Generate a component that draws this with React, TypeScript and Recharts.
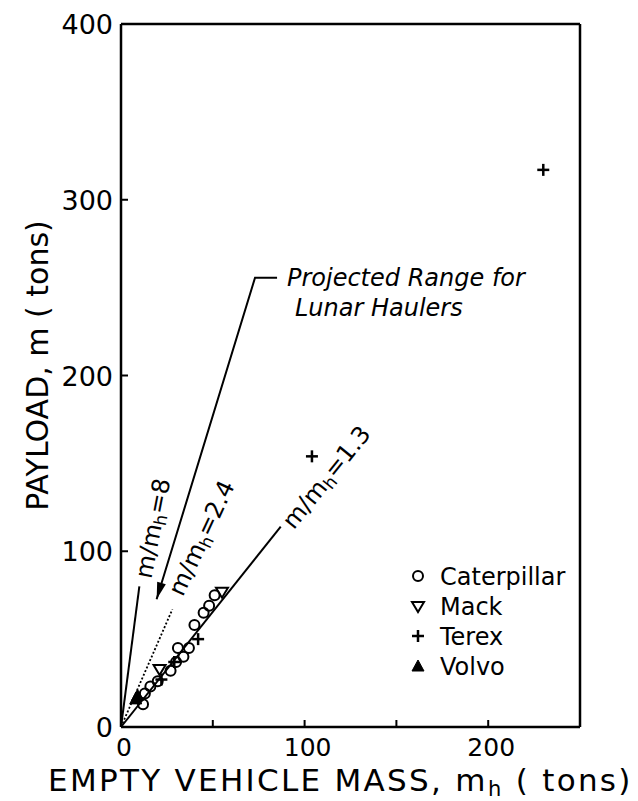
import { ScatterChart, Scatter, XAxis, YAxis, ReferenceDot, Legend } from "recharts";

// (tons)
const caterpillarX = [12, 13, 16, 20, 27, 30, 31, 34, 37, 40, 45, 48, 51];
const caterpillarY = [13, 19, 23, 26, 32, 37, 45, 40, 45, 58, 65, 69, 75];
const mackX = [21, 55];
const mackY = [33, 77];
const terexX = [22, 29, 42, 104, 230];
const terexY = [27, 37, 50, 154, 317];
const volvoX = [8, 9];
const volvoY = [16, 18];

// ratio lines m/mh, drawn from the origin
const line13X = [0, 87];
const line13Y = [0, 114];
const line24X = [0, 28];
const line24Y = [0, 67];
const line8X = [0, 10];
const line8Y = [0, 80];

// leader for the "Projected Range" note
const leaderX = [85, 73, 19.4];
const leaderY = [255.6, 255.6, 72.7];

const xTicks = [0, 50, 100, 150, 200, 250];
const xTickLabels = [0, 100, 200];
const yTicks = [0, 100, 200, 300, 400];
const yTickLabels = [0, 100, 200, 300, 400];
const legendNames = ["Caterpillar", "Mack", "Terex", "Volvo"];

const FONT = "'DejaVu Sans', sans-serif";
const INK = "#000";

const pts = (xs: number[], ys: number[]) => xs.map((x, i) => ({ x, y: ys[i] }));

const Circle = ({ cx, cy }: any) => <circle cx={cx} cy={cy} r={5} fill="none" stroke={INK} strokeWidth={2} />;
const DownTri = ({ cx, cy }: any) => (
  <polygon points={`${cx - 6},${cy - 4} ${cx + 6},${cy - 4} ${cx},${cy + 6}`} fill="none" stroke={INK} strokeWidth={2} />
);
const Plus = ({ cx, cy }: any) => (
  <g stroke={INK} strokeWidth={2.5}>
    <line x1={cx - 6} x2={cx + 6} y1={cy} y2={cy} />
    <line x1={cx} x2={cx} y1={cy - 6} y2={cy + 6} />
  </g>
);
const UpTri = ({ cx, cy }: any) => (
  <polygon points={`${cx - 6},${cy + 5} ${cx + 6},${cy + 5} ${cx},${cy - 6}`} fill={INK} stroke={INK} strokeWidth={1} />
);
const NoDot = () => <g />;

const markers = [Circle, DownTri, Plus, UpTri];

function BottomTick({ x, y, payload }: any) {
  const v = payload.value;
  return (
    <g>
      {v > 0 && v < 250 && <line x1={x} x2={x} y1={y} y2={y - 7} stroke={INK} strokeWidth={2} />}
      {xTickLabels.includes(v) && (
        <text x={x + 3} y={y + 29} textAnchor="middle" fontSize={25} fontFamily={FONT} fill={INK}>
          {v}
        </text>
      )}
    </g>
  );
}

function TopTick({ x, y, payload }: any) {
  const v = payload.value;
  if (v <= 0 || v >= 250) return <g />;
  return <line x1={x} x2={x} y1={y} y2={y + 7} stroke={INK} strokeWidth={2} />;
}

function LeftTick({ x, y, payload }: any) {
  const v = payload.value;
  return (
    <g>
      {v > 0 && v < 400 && <line x1={x} x2={x + 7} y1={y} y2={y} stroke={INK} strokeWidth={2} />}
      {yTickLabels.includes(v) && (
        <text x={x - 8} y={y + 10} textAnchor="end" fontSize={27} fontFamily={FONT} fill={INK}>
          {v}
        </text>
      )}
    </g>
  );
}

function RightTick({ x, y, payload }: any) {
  const v = payload.value;
  if (v <= 0 || v >= 400) return <g />;
  return <line x1={x} x2={x - 7} y1={y} y2={y} stroke={INK} strokeWidth={2} />;
}

function RatioLabel({ cx, cy, angle, value }: any) {
  return (
    <text
      x={cx}
      y={cy}
      transform={`rotate(${angle} ${cx} ${cy})`}
      textAnchor="middle"
      dominantBaseline="central"
      fontSize={24}
      fontFamily={FONT}
      fill={INK}
    >
      m/m<tspan fontSize={17} dy={6}>h</tspan>
      <tspan dy={-6}>={value}</tspan>
    </text>
  );
}

function LegendBox() {
  return (
    <svg width={200} height={124} style={{ display: "block" }}>
      {legendNames.map((name, i) => {
        const M = markers[i];
        const cy = 15 + i * 30;
        return (
          <g key={name}>
            <M cx={10} cy={cy} />
            <text x={32} y={cy + 9} fontSize={24} fontFamily={FONT} fill={INK}>
              {name}
            </text>
          </g>
        );
      })}
    </svg>
  );
}

export default function App() {
  return (
    <ScatterChart width={630} height={793} margin={{ top: 15, right: 57, bottom: 73, left: 112 }}>
      <XAxis
        type="number"
        dataKey="x"
        domain={[0, 250]}
        ticks={xTicks}
        interval={0}
        height={1}
        tickSize={0}
        tickMargin={0}
        tickLine={false}
        axisLine={{ stroke: INK, strokeWidth: 2.5 }}
        tick={<BottomTick />}
        label={{
          content: ({ viewBox }: any) => (
            <text
              x={viewBox.x - 73}
              y={viewBox.y + 64}
              textAnchor="start"
              fontSize={31}
              letterSpacing={2.3}
              fontFamily={FONT}
              fill={INK}
            >
              EMPTY VEHICLE MASS, m<tspan fontSize={21} dy={5}>h</tspan>
              <tspan dy={-5}> ( tons)</tspan>
            </text>
          ),
        }}
      />
      <XAxis
        xAxisId="top"
        orientation="top"
        type="number"
        dataKey="x"
        domain={[0, 250]}
        ticks={xTicks}
        interval={0}
        height={1}
        tickSize={0}
        tickMargin={0}
        tickLine={false}
        axisLine={{ stroke: INK, strokeWidth: 2.5 }}
        tick={<TopTick />}
      />
      <YAxis
        type="number"
        dataKey="y"
        domain={[0, 400]}
        ticks={yTicks}
        interval={0}
        width={1}
        tickSize={0}
        tickMargin={0}
        tickLine={false}
        axisLine={{ stroke: INK, strokeWidth: 2.5 }}
        tick={<LeftTick />}
        label={{
          content: ({ viewBox }: any) => {
            const x = viewBox.x - 72;
            const y = viewBox.y + viewBox.height / 2 - 10;
            return (
              <text
                x={x}
                y={y}
                transform={`rotate(-90 ${x} ${y})`}
                textAnchor="middle"
                fontSize={30}
                fontFamily={FONT}
                fill={INK}
              >
                PAYLOAD, m ( tons)
              </text>
            );
          },
        }}
      />
      <YAxis
        yAxisId="right"
        orientation="right"
        type="number"
        dataKey="y"
        domain={[0, 400]}
        ticks={yTicks}
        interval={0}
        width={1}
        tickSize={0}
        tickMargin={0}
        tickLine={false}
        axisLine={{ stroke: INK, strokeWidth: 2.5 }}
        tick={<RightTick />}
      />

      <Scatter data={pts(line13X, line13Y)} line={{ stroke: INK, strokeWidth: 2 }} shape={NoDot} legendType="none" isAnimationActive={false} />
      <Scatter data={pts(line24X, line24Y)} line={{ stroke: INK, strokeWidth: 1.8, strokeDasharray: "2 2" }} shape={NoDot} legendType="none" isAnimationActive={false} />
      <Scatter data={pts(line8X, line8Y)} line={{ stroke: INK, strokeWidth: 2 }} shape={NoDot} legendType="none" isAnimationActive={false} />
      <Scatter data={pts(leaderX, leaderY)} line={{ stroke: INK, strokeWidth: 2 }} shape={NoDot} legendType="none" isAnimationActive={false} />

      <Scatter name="Caterpillar" data={pts(caterpillarX, caterpillarY)} shape={Circle} isAnimationActive={false} />
      <Scatter name="Mack" data={pts(mackX, mackY)} shape={DownTri} isAnimationActive={false} />
      <Scatter name="Terex" data={pts(terexX, terexY)} shape={Plus} isAnimationActive={false} />
      <Scatter name="Volvo" data={pts(volvoX, volvoY)} shape={UpTri} isAnimationActive={false} />

      {/* arrow head at the end of the leader */}
      <ReferenceDot
        x={leaderX[2]}
        y={leaderY[2]}
        r={1}
        shape={({ cx, cy }: any) => (
          <polygon transform={`translate(${cx} ${cy}) rotate(106.7)`} points="0,0 -17,-4.5 -17,4.5" fill={INK} />
        )}
      />

      <ReferenceDot x={17.4} y={113} r={1} shape={(p: any) => <RatioLabel {...p} angle={-79} value="8" />} />
      <ReferenceDot x={44} y={107.5} r={1} shape={(p: any) => <RatioLabel {...p} angle={-65} value="2.4" />} />
      <ReferenceDot x={112} y={142} r={1} shape={(p: any) => <RatioLabel {...p} angle={-51} value="1.3" />} />

      <ReferenceDot
        x={90.4}
        y={251}
        r={1}
        shape={({ cx, cy }: any) => (
          <text x={cx} y={cy} fontSize={24} fontStyle="italic" fontFamily={FONT} fill={INK}>
            Projected Range for
            <tspan x={cx + 8} dy={30}>Lunar Haulers</tspan>
          </text>
        )}
      />

      <Legend
        layout="vertical"
        align="center"
        verticalAlign="middle"
        wrapperStyle={{ left: 400, top: 553, width: 200 }}
        content={() => <LegendBox />}
      />
    </ScatterChart>
  );
}
